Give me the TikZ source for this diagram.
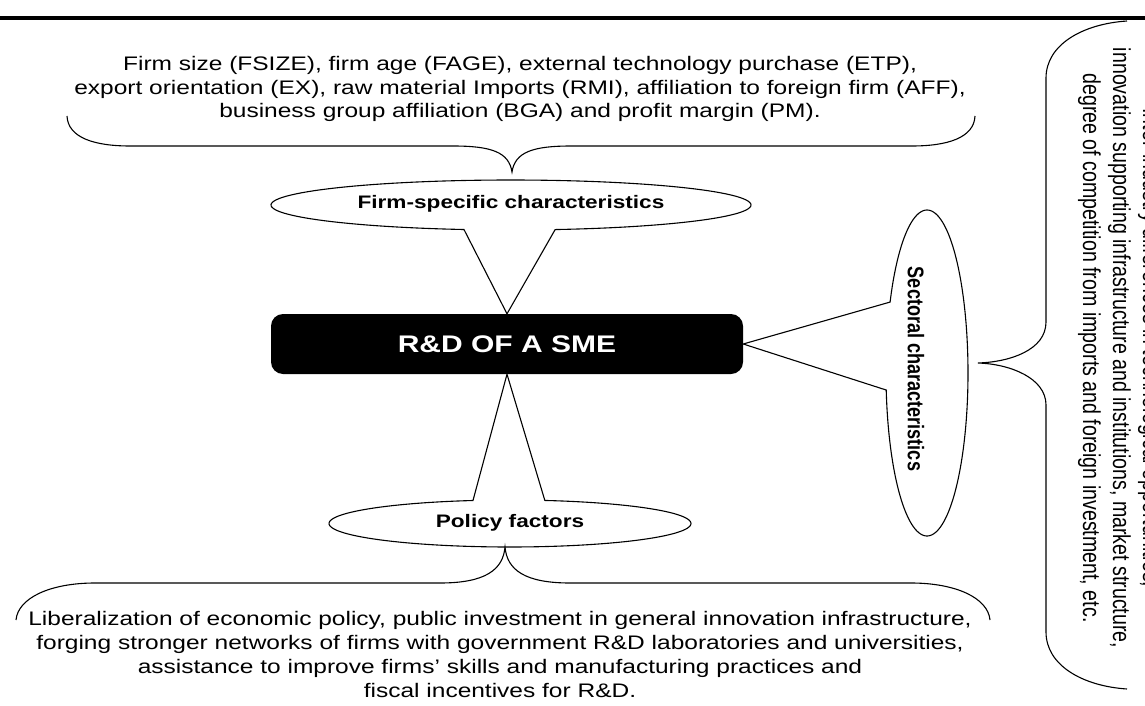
\documentclass[tikz,border=0pt]{standalone}
\usepackage{fontspec}
\usepackage{graphicx}
\setmainfont{Liberation Sans}[FakeStretch=1.25]
\newfontfamily\rotfont{Liberation Sans}
\begin{document}
\begin{tikzpicture}[x=1pt,y=-1pt,
  txt/.style={inner sep=0pt, align=center, font=\fontsize{19.6}{23.4}\selectfont},
  lbl/.style={inner sep=0pt, font=\fontsize{18.1}{22}\selectfont\bfseries},
  callout/.style={draw=black, line width=1.1pt, fill=white, line join=miter},
  brace/.style={draw=black, line width=1.1pt},
  rdbox/.style={fill=black, rounded corners=12pt, minimum width=472pt, minimum height=60pt,
    inner sep=0pt, text=white, font=\fontsize{24}{29}\selectfont\bfseries}]
\useasboundingbox (0,0) rectangle (1145,706);
\clip (0,0) rectangle (1145,706);
\fill[white] (0,0) rectangle (1145,706);
\draw[line width=3.5pt] (0,18) -- (1145,18);

% central box
\node[rdbox] (rd) at (507,344) {R\&D OF A SME};

% callouts
\draw[callout] plot[domain=101.3:439.4, samples=120] ({511+240*cos(\x)}, {205+25*sin(\x)}) -- (rd.north) -- cycle;
\node[lbl] (firm) at (511,204) {Firm-specific characteristics};

\draw[callout] plot[domain=281.1:618.2, samples=120] ({510+181*cos(\x)}, {523.5+23.5*sin(\x)}) -- (rd.south) -- cycle;
\node[lbl] (pol) at (510,523) {Policy factors};

\draw[callout] plot[domain=205.8:534, samples=160] ({927+41*cos(\x)}, {373+163*sin(\x)}) -- (rd.east) -- cycle;
\node[lbl, rotate=-90] (sect) at (916,369) {\scalebox{1}[1.25]{\rotfont Sectoral characteristics}};

% texts
\node[txt, anchor=north] (ftxt) at (520,56.3) {Firm size (FSIZE), firm age (FAGE), external technology purchase (ETP),\\
export orientation (EX), raw material Imports (RMI), affiliation to foreign firm (AFF),\\
business group affiliation (BGA) and profit margin (PM).};

\node[txt, anchor=north, font=\fontsize{19.6}{24}\selectfont] (ptxt) at (500,611.5) {Liberalization of economic policy, public investment in general innovation infrastructure,\\
forging stronger networks of firms with government R\&D laboratories and universities,\\
assistance to improve firms’ skills and manufacturing practices and\\
fiscal incentives for R\&D.};

\node[rotate=-90, inner sep=0pt] (stxt) at (1119,348) {\scalebox{1}[1.25]{\rotfont\fontsize{19.6}{24}\selectfont
\begin{tabular}{@{}c@{}}Inter-industry differences in technological opportunities,\\
innovation supporting infrastructure and institutions, market structure,\\
degree of competition from imports and foreign investment, etc.\end{tabular}}};

% braces
\draw[brace] (67,116) .. controls (68,138) and (95,146) .. (130,146) -- (453,146)
  .. controls (491,146) and (509,152) .. (512,172)
  .. controls (515,152) and (533,146) .. (571,146) -- (912,146)
  .. controls (947,146) and (974,138) .. (975,116);

\draw[brace] (16,620) .. controls (18,598) and (50,583) .. (95,583) -- (440,583)
  .. controls (485,583) and (503,570) .. (505,547)
  .. controls (507,570) and (525,583) .. (570,583) -- (911,583)
  .. controls (956,583) and (988,598) .. (990,620);

\draw[brace] (1127,21) .. controls (1082,24) and (1046,45) .. (1046,78) -- (1046,322)
  .. controls (1046,350) and (1010,362) .. (978,363)
  .. controls (1010,364) and (1046,378) .. (1046,405) -- (1046,632)
  .. controls (1046,665) and (1082,686) .. (1127,689);
\end{tikzpicture}
\end{document}
